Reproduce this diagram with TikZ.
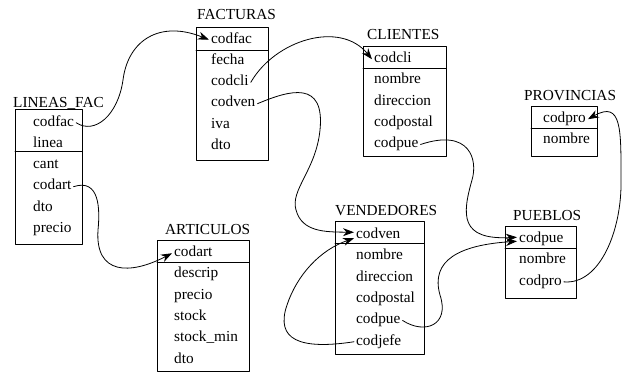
\documentclass[tikz,border=0pt]{standalone}
\usepackage{fontspec}
\setmainfont{Liberation Serif}
\usetikzlibrary{arrows.meta}
\begin{document}
\begin{tikzpicture}[x=1pt, y=-1pt, line join=round, line cap=round,
	font=\fontsize{15.3}{18}\selectfont,
	campo/.style={anchor=base west, inner sep=2pt, text height=10pt, text depth=3.5pt},
	titulo/.style={anchor=base west, inner sep=0pt},
	tabla/.style={line width=0.9pt},
	ref/.style={line width=0.8pt, -{Stealth[length=11pt,width=8pt,inset=3.5pt]}}]
	\useasboundingbox (0,0) rectangle (623,372);
	\def\paso{21.3}
	
	% LINEAS_FAC
	\node[titulo] (lf) at (13,107.8) {LINEAS\_FAC};
	\draw[tabla] (15,109) rectangle (82,244);
	\draw[tabla] (15,151)--(82,151);
	\foreach \f [count=\i from 0] in {codfac,linea,cant,codart,dto,precio}
		\node[campo] (lf-\f) at (31,{126+\paso*\i}) {\f};
	
	% FACTURAS
	\node[titulo] (fa) at (197,19) {FACTURAS};
	\draw[tabla] (196,27) rectangle (268,160);
	\draw[tabla] (196,50)--(268,50);
	\foreach \f [count=\i from 0] in {codfac,fecha,codcli,codven,iva,dto}
		\node[campo] (fa-\f) at (209,{43+\paso*\i}) {\f};
	
	% CLIENTES
	\node[titulo] (cl) at (367,39) {CLIENTES};
	\draw[tabla] (363,46) rectangle (446,156);
	\draw[tabla] (363,68)--(446,68);
	\foreach \f [count=\i from 0] in {codcli,nombre,direccion,codpostal,codpue}
		\node[campo] (cl-\f) at (372,{62.5+\paso*\i}) {\f};
	
	% PROVINCIAS
	\node[titulo] (pr) at (524,100) {PROVINCIAS};
	\draw[tabla] (531,106) rectangle (597,156);
	\draw[tabla] (531,128)--(597,128);
	\foreach \f [count=\i from 0] in {codpro,nombre}
		\node[campo] (pr-\f) at (541,{122.5+\paso*\i}) {\f};
	
	% PUEBLOS
	\node[titulo] (pu) at (513,220.5) {PUEBLOS};
	\draw[tabla] (505,226) rectangle (576,298);
	\draw[tabla] (505,248)--(576,248);
	\foreach \f [count=\i from 0] in {codpue,nombre,codpro}
		\node[campo] (pu-\f) at (517,{242.5+\paso*\i}) {\f};
	
	% ARTICULOS
	\node[titulo] (ar) at (165,234) {ARTICULOS};
	\draw[tabla] (157,240) rectangle (249,371);
	\draw[tabla] (157,262)--(249,262);
	\foreach \f/\t [count=\i from 0] in {codart/codart,descrip/descrip,precio/precio,stock/stock,stockmin/stock\_min,dto/dto}
		\node[campo] (ar-\f) at (172,{256.5+\paso*\i}) {\t};
	
	% VENDEDORES
	\node[titulo] (ve) at (335,215) {VENDEDORES};
	\draw[tabla] (335,221) rectangle (424,354);
	\draw[tabla] (335,243)--(424,243);
	\foreach \f [count=\i from 0] in {codven,nombre,direccion,codpostal,codpue,codjefe}
		\node[campo] (ve-\f) at (354,{238.5+\paso*\i}) {\f};
	
	% claves ajenas
	\draw[ref] (lf-codfac.east) .. controls (95,135) and (118,115) .. (123,80)
		.. controls (128,40) and (160,20) .. (fa-codfac.west);
	\draw[ref] (lf-codart.east) .. controls (100,178) and (100,210) .. (98,230)
		.. controls (95,275) and (130,275) .. (ar-codart.west);
	\draw[ref] (fa-codcli.east) .. controls (275,40) and (340,20) .. (cl-codcli.west);
	\draw[ref] (fa-codven.east) .. controls (290,90) and (325,80) .. (320,130)
		.. controls (316,170) and (290,190) .. (296,210)
		.. controls (302,232) and (325,232) .. ([yshift=3pt]ve-codven.west);
	\draw[ref] (ve-codjefe.west) .. controls (300,350) and (275,340) .. (287,305)
		.. controls (297,275) and (320,250) .. ([yshift=-3pt]ve-codven.west);
	\draw[ref] (cl-codpue.east) .. controls (470,128) and (478,160) .. (472,180)
		.. controls (462,215) and (460,240) .. ([yshift=2pt]pu-codpue.west);
	\draw[ref] (ve-codpue.east) .. controls (425,335) and (450,325) .. (440,295)
		.. controls (430,260) and (460,245) .. ([yshift=-2pt]pu-codpue.west);
	\draw[ref] (pu-codpro.east) .. controls (600,285) and (622,230) .. (621,180)
		.. controls (621,130) and (622,100) .. (pr-codpro.east);
\end{tikzpicture}
\end{document}
